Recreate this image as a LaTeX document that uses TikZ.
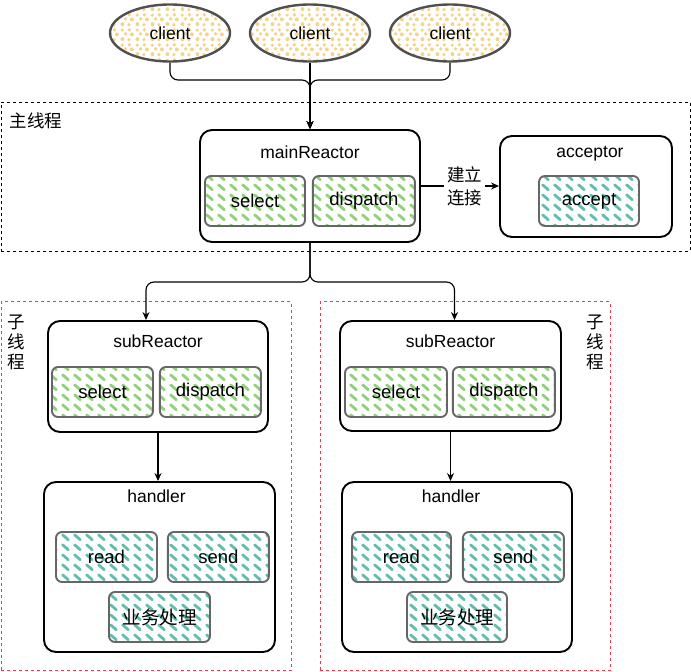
\documentclass[tikz,border=0pt]{standalone}
\usepackage{fontspec}
\setmainfont{Liberation Sans}
\newfontfamily\cjk{Noto Sans CJK SC}
\usepackage{tikz}
\usetikzlibrary{arrows.meta,positioning,shapes.geometric,patterns.meta}
\definecolor{sandy}{RGB}{244,212,140}
\definecolor{clientline}{RGB}{80,80,80}
\definecolor{innerline}{RGB}{102,102,102}
\definecolor{hatchgreen}{RGB}{145,208,125}
\definecolor{hatchteal}{RGB}{100,188,175}
\definecolor{threadred}{RGB}{235,60,75}
\tikzdeclarepattern{
  name=dashhatch,
  type=uncolored,
  bounding box={(0pt,0pt) and (12pt,10pt)},
  tile size={(12pt,10pt)},
  code={
    \draw[line width=3pt, line cap=round] (2.8pt,7.8pt) -- (8.9pt,2.4pt);
  }
}
\tikzdeclarepattern{
  name=speckle,
  type=uncolored,
  bounding box={(0pt,0pt) and (15pt,15pt)},
  tile size={(15pt,15pt)},
  code={
    \fill (2.6pt,3pt) circle (2.1pt);
    \fill (9.5pt,2.4pt) circle (1.9pt);
    \fill (12.6pt,8pt) circle (2.1pt);
    \fill (6pt,8.6pt) circle (2pt);
    \fill (2.4pt,12.5pt) circle (1.9pt);
    \fill (10pt,12.8pt) circle (2pt);
  }
}
\tikzset{
  client/.style={
    ellipse,
    draw=clientline,
    line width=2.4pt,
    pattern=speckle,
    pattern color=sandy,
    minimum width=120pt,
    minimum height=57pt,
    inner sep=0pt
  },
  frame/.style={
    draw=black,
    fill=white,
    line width=1.9pt,
    rounded corners=12pt
  },
  title/.style={inner sep=0pt},
  hatchbox/.style={
    draw=innerline,
    line width=1.9pt,
    rounded corners=6pt,
    pattern=dashhatch,
    minimum width=100pt,
    minimum height=50pt,
    inner sep=0pt,
    font=\fontsize{18.5}{22}\selectfont
  },
  greenbox/.style={hatchbox, pattern color=hatchgreen},
  tealbox/.style={hatchbox, pattern color=hatchteal},
  mainthread/.style={draw=black, dash pattern=on 3pt off 3pt, line width=0.9pt},
  subthread/.style={draw=threadred, dash pattern=on 3pt off 3pt, line width=1pt},
  cjklabel/.style={font=\fontsize{17.5}{20}\selectfont\cjk, align=center, inner sep=0pt},
  linklabel/.style={font=\fontsize{17.5}{23}\selectfont\cjk, align=center, fill=white, inner sep=3pt},
  arrow/.style={-{Stealth[length=8pt,width=7pt]}, line width=1.1pt}
}

\begin{document}
\begin{tikzpicture}[x=1pt, y=-1pt, font=\fontsize{17.5}{21}\selectfont]
  \useasboundingbox[fill=white] (0,0) rectangle (691,672);

  % thread areas
  \node[mainthread, minimum width=689pt, minimum height=149pt] (mainth) at (345.5,176.5) {};
  \node[subthread, minimum width=290pt, minimum height=369pt] (subth1) at (146,486) {};
  \node[subthread, minimum width=290pt, minimum height=369pt] (subth2) at (465,486) {};
  \node (mainthL) at (36,121) {\cjk 主线程};
  \node[cjklabel] (subth1L) at (16,342) {子\\线\\程};
  \node[cjklabel] (subth2L) at (595,342) {子\\线\\程};

  % clients
  \node[client] (c1) at (170,33) {client};
  \node[client] (c2) at (310,33) {client};
  \node[client] (c3) at (450,33) {client};

  % main reactor and acceptor
  \node[frame, minimum width=220pt, minimum height=112pt] (main) at (310,186) {};
  \node[title, below=17pt of main.north] (mainT) {mainReactor};
  \node[greenbox] (msel) at (255,201) {select};
  \node[greenbox, minimum width=102pt, right=6pt of msel] (mdis) {dispatch};

  \node[frame, minimum width=172pt, minimum height=101pt] (acc) at (586,186.5) {};
  \node[title, below=11pt of acc.north, xshift=4pt] (accT) {acceptor};
  \node[tealbox] (accept) at (589,201) {accept};

  % sub reactors
  \node[frame, minimum width=220pt, minimum height=111pt] (sub1) at (158,376.5) {};
  \node[title, below=15pt of sub1.north] (sub1T) {subReactor};
  \node[greenbox, minimum width=101pt] (s1sel) at (102.5,392) {select};
  \node[greenbox, minimum width=101pt, right=5pt of s1sel] (s1dis) {dispatch};

  \node[frame, minimum width=221pt, minimum height=110pt] (sub2) at (450.5,376) {};
  \node[title, below=15pt of sub2.north] (sub2T) {subReactor};
  \node[greenbox, minimum width=102pt] (s2sel) at (396,392) {select};
  \node[greenbox, minimum width=102pt, right=4pt of s2sel] (s2dis) {dispatch};

  % handlers
  \node[frame, minimum width=231pt, minimum height=170pt] (hand1) at (159.5,567) {};
  \node[title, below=9pt of hand1.north, xshift=-3pt] (hand1T) {handler};
  \node[tealbox, minimum width=101pt] (h1read) at (106.5,557) {read};
  \node[tealbox, minimum width=101pt, right=9pt of h1read] (h1send) {send};
  \node[tealbox, minimum width=101pt] (h1biz) at (159.5,617) {\cjk 业务处理};

  \node[frame, minimum width=230pt, minimum height=170pt] (hand2) at (457,567) {};
  \node[title, below=9pt of hand2.north, xshift=-6pt] (hand2T) {handler};
  \node[tealbox, minimum width=99pt] (h2read) at (401.5,557) {read};
  \node[tealbox, minimum width=101pt, right=10pt of h2read] (h2send) {send};
  \node[tealbox] (h2biz) at (457,617) {\cjk 业务处理};

  % connectors
  \coordinate (cjoin) at (310,80);
  \coordinate (mjoin) at (310,282);
  \draw[arrow] (c2.south) -- (main.north);
  \draw[arrow, rounded corners=8pt] (c1.south) |- (cjoin) -- (main.north);
  \draw[arrow, rounded corners=8pt] (c3.south) |- (cjoin) -- (main.north);
  \draw[arrow] (main.east) -- node[linklabel, pos=0.56] (linkL) {建立\\连接} (main.east -| acc.west);
  \draw[arrow, rounded corners=8pt] (main.south) -- (mjoin) -| ([xshift=-12pt]sub1.north);
  \draw[arrow, rounded corners=8pt] (main.south) -- (mjoin) -| ([xshift=4pt]sub2.north);
  \draw[arrow] (sub1.south) -- (sub1.south |- hand1.north);
  \draw[arrow] (sub2.south) -- (sub2.south |- hand2.north);
\end{tikzpicture}
\end{document}
